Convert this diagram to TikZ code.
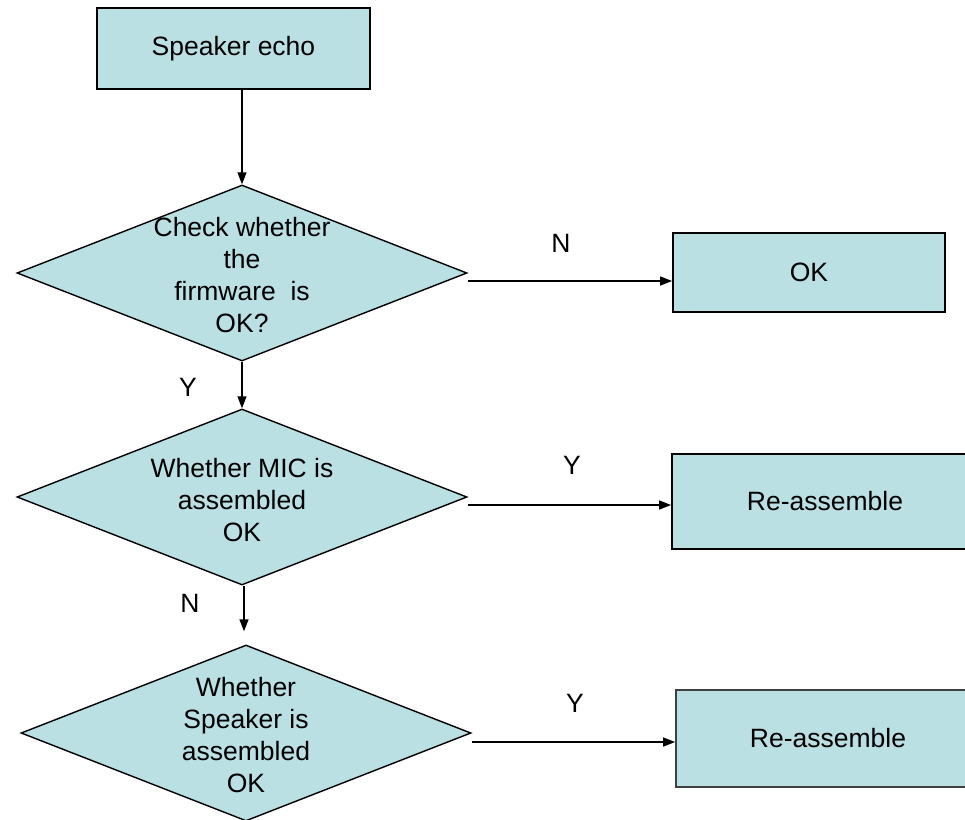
\documentclass[tikz,border=0pt]{standalone}
\usepackage{fontspec}
\setmainfont{Liberation Sans}
\usetikzlibrary{shapes.geometric,arrows.meta,calc}
\definecolor{boxfill}{RGB}{186,224,227}
\tikzset{
  stepbox/.style={draw=black, line width=1.8pt, fill=boxfill, rectangle, inner sep=0pt, font=\fontsize{26.5}{32}\selectfont},
  dia/.style={draw=black, line width=1.4pt, fill=boxfill, diamond, inner sep=0pt, minimum width=450pt, minimum height=176pt},
  diatext/.style={align=center, inner sep=0pt, font=\fontsize{26.5}{32}\selectfont},
  lbl/.style={inner sep=0pt, font=\fontsize{26.5}{32}\selectfont},
  arr/.style={draw=black, line width=1.4pt, -{Triangle[length=12pt,width=9pt]}}
}
\begin{document}
\begin{tikzpicture}[x=1pt,y=-1pt]
\useasboundingbox (0,0) rectangle (965,819);
\clip (0,0) rectangle (965,819);
\fill[white] (0,0) rectangle (965,819);
% nodes
\node[stepbox, minimum width=273pt, minimum height=81pt] (start) at (233.5,48.5) {Speaker echo};
\node[dia] (d1) at (242,273) {};
\node[diatext] (t1) at (242,275) {Check whether\\the\\firmware~ is\\OK?};
\node[stepbox, minimum width=272pt, minimum height=79pt] (ok) at (809,272.5) {OK};
\node[dia] (d2) at (242,497) {};
\node[diatext] (t2) at (242,500) {Whether MIC is\\assembled\\OK};
\node[stepbox, minimum width=306pt, minimum height=95pt] (re1) at (825,501.5) {Re-assemble};
\node[dia] (d3) at (246,733) {};
\node[diatext] (t3) at (246,735) {Whether\\Speaker is\\assembled\\OK};
\node[stepbox, minimum width=304pt, minimum height=97pt, draw=black!75] (re2) at (828,738.5) {Re-assemble};
% labels
\node[lbl] (lN1) at (561,243) {N};
\node[lbl] (lY1) at (188,387) {Y};
\node[lbl] (lY2) at (572,465) {Y};
\node[lbl] (lN2) at (190,603) {N};
\node[lbl] (lY3) at (575,703) {Y};
% connectors
\draw[arr] (start.south -| d1.north) -- (d1.north);
\draw[arr] (d1.south) -- (d2.north);
\draw[arr, shorten >=13pt] ([xshift=2pt]d2.south) -- ([xshift=2pt]d2.south |- d3.north);
\draw[arr] ([yshift=-8pt]d1.east) -- ([yshift=-8pt]d1.east -| ok.west);
\draw[arr] ([yshift=-8pt]d2.east) -- ([yshift=-8pt]d2.east -| re1.west);
\draw[arr] ([yshift=-9pt]d3.east) -- ([yshift=-9pt]d3.east -| re2.west);
\end{tikzpicture}
\end{document}
